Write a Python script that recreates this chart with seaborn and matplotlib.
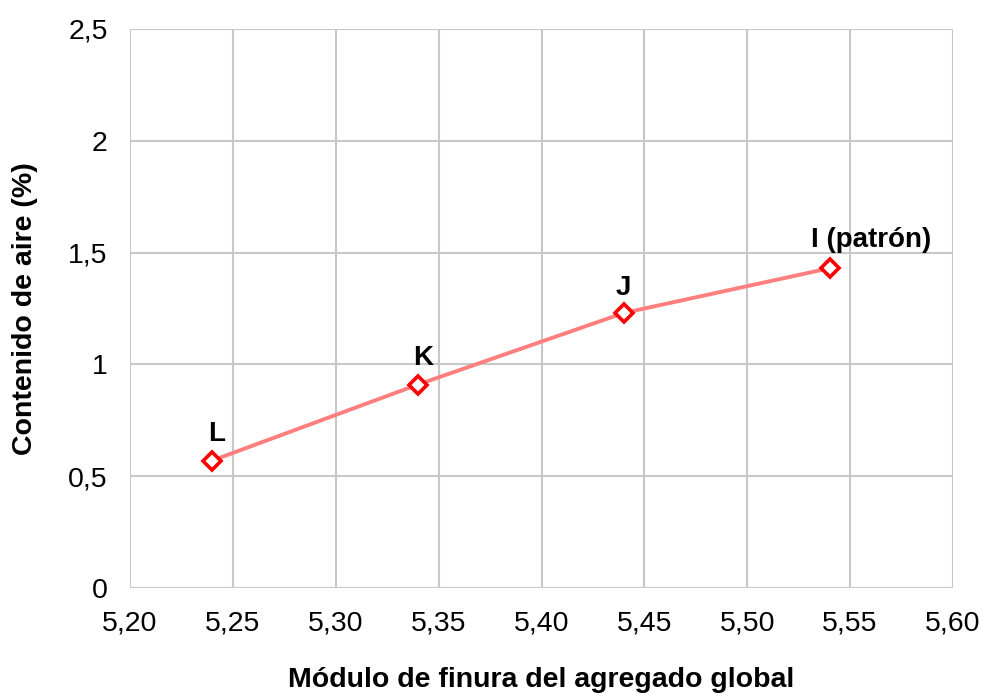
import matplotlib
matplotlib.use("Agg")
import matplotlib.pyplot as plt
import seaborn as sns
import pandas as pd

modulo = [5.24, 5.34, 5.44, 5.54]
aire = [0.57, 0.91, 1.23, 1.43]
etiquetas = ["L", "K", "J", "I (patrón)"]
xticks = [5.20, 5.25, 5.30, 5.35, 5.40, 5.45, 5.50, 5.55, 5.60]
yticks = [0, 0.5, 1, 1.5, 2, 2.5]

sns.set_theme(style="white", rc={"text.color": "black", "axes.labelcolor": "black",
                                 "xtick.color": "black", "ytick.color": "black"})
plt.rcParams['font.family'] = ['Liberation Sans', 'DejaVu Sans']

df = pd.DataFrame({"x": modulo, "y": aire})

fig = plt.figure(figsize=(9.84, 6.93), dpi=100)
ax = fig.add_axes([130/984, 1-588/693, (953-130)/984, (588-29)/693])

sns.lineplot(data=df, x="x", y="y", ax=ax, color="#FF7F7F", linewidth=2.8,
             marker="D", markersize=9, markerfacecolor="white",
             markeredgecolor="#FF0000", markeredgewidth=2.6, zorder=3)

FS = 20.5
ax.set_xlim(5.20, 5.60)
ax.set_ylim(0, 2.5)
ax.set_xticks(xticks)
ax.set_yticks(yticks)
ax.set_xticklabels([f"{v:.2f}".replace(".", ",") for v in xticks], fontsize=FS)
ax.set_yticklabels([f"{v:g}".replace(".", ",") for v in yticks], fontsize=FS)
ax.grid(True, color="#C8C8C8", linewidth=1.5)
ax.set_axisbelow(True)
for s in ax.spines.values():
    s.set_visible(False)
ax.tick_params(axis="x", length=0, pad=16)
ax.tick_params(axis="y", length=0, pad=16)

ax.set_xlabel("Módulo de finura del agregado global", fontsize=FS, fontweight="bold", labelpad=22)
ax.set_ylabel("Contenido de aire (%)", fontsize=FS, fontweight="bold", labelpad=22)

offsets = [(3, 14), (4, 14), (0, 13), (30, 15)]
for xv, yv, t, off in zip(modulo, aire, etiquetas, offsets):
    ax.annotate(t, (xv, yv), xytext=off, textcoords="offset points",
                ha="center", va="baseline", fontsize=FS - 0.5, fontweight="bold")

fig.savefig("out.png", dpi=100)
